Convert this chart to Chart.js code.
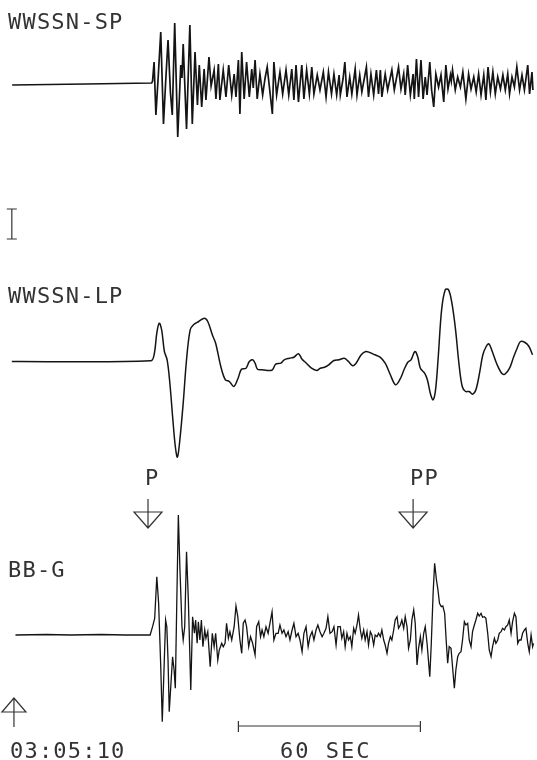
<!DOCTYPE html>
<html>
<head>
<meta charset="utf-8">
<title>Seismogram</title>
<script src="https://cdn.jsdelivr.net/npm/chart.js@4/dist/chart.umd.min.js"></script>
<style>
  body { margin: 0; background: #fff; }
  canvas { display: block; }
</style>
</head>
<body>
<canvas id="seis" width="537" height="760"></canvas>
<script>
// traces : [temps (s), amplitude]  - temps 0 = debut du trace
const spTrace = [
  [0.7,-2],[25,-1],[46.7,0],[47.0,2],[47.5,21],[48.1,-32],[48.9,8],[49.7,51],[50.6,-41],[51.3,0],
  [52.1,43],[52.9,-10],[53.5,-32],[54.3,60],[55.3,-54],[56.3,18],[56.7,5],[57.1,39],[58.2,-46],[59.3,58],
  [60.1,-41],[61.0,31],[61.8,-22],[62.4,18],[63.2,-24],[64.0,14],[64.6,-17],[65.6,26],[66.3,-3],[67.3,13],
  [67.9,-16],[68.7,19],[69.2,-17],[70.3,13],[71.2,-14],[72.1,18],[73.1,-12],[73.9,9],[74.5,-14],[75.3,23],
  [75.8,-31],[76.4,31],[77.2,-16],[78.0,21],[78.9,-14],[79.7,14],[80.2,-5],[80.8,23],[81.5,-16],[82.4,9],
  [83.3,-12],[84.1,5],[84.8,16],[85.7,-9],[86.5,-31],[87.0,21],[87.9,-12],[89.0,11],[89.9,-11],[91.0,13],
  [91.9,-12],[92.9,14],[93.6,-17],[94.3,18],[95.1,-19],[96.2,18],[96.9,-16],[97.8,13],[98.7,-11],[99.5,16],
  [100.2,-11],[101.3,8],[102.2,-7],[103.3,11],[104.2,-14],[105.0,11],[106.0,-11],[106.8,9],[107.7,-12],[108.5,8],
  [108.9,-12],[109.8,4],[110.4,21],[111.1,-14],[112.0,6],[112.7,-11],[113.8,14],[114.4,-12],[115.3,8],[116.0,-9],
  [117.5,16],[118.2,-14],[119.0,9],[119.9,-12],[120.8,13],[121.5,-11],[122.1,13],[122.6,-14],[123.7,9],[124.5,-7],
  [125.9,13],[126.7,-7],[128.1,16],[128.9,-6],[129.8,9],[130.3,-12],[131.1,18],[132.0,-12],[132.9,9],[133.3,-16],
  [134.0,24],[134.7,-14],[135.5,23],[136.2,-16],[136.9,6],[137.5,-12],[138.4,21],[139.0,-7],[139.7,-24],[140.4,9],
  [141.3,-4],[142.1,8],[143.0,-19],[143.7,18],[144.4,-6],[145.2,8],[145.5,2],[145.9,13],[146.8,-7],[147.6,6],
  [148.5,-4],[149.3,11],[150.3,-16],[151.2,9],[152.0,-6],[152.9,6],[153.7,-9],[154.5,9],[155.3,-12],[156.2,8],
  [156.9,-17],[157.6,16],[158.4,-9],[159.2,11],[160.0,-11],[160.8,6],[161.7,-6],[162.5,8],[163.3,-7],[164.1,9],
  [164.7,-11],[165.5,6],[166.3,-4],[167.1,16],[168.0,-7],[168.8,8],[169.6,-7],[170.7,18],[171.3,-11],[172.1,11],
  [172.4,-7]
];

const lpTrace = [
  [0.6,0],[46.4,0.7],[47.5,6.7],[48.4,28.3],[49.2,38.3],[50.0,31.7],[50.9,10],[51.8,1.7],[52.6,-18.3],[53.7,-58.3],
  [54.5,-85],[55.2,-95.7],[56.0,-78.3],[57.1,-41.7],[58.2,1.7],[59.4,31.7],[60.5,36.7],[62.2,40],[64.1,43.3],[65.2,40],
  [66.7,26.7],[67.8,18.3],[69.5,-5],[71.0,-18.3],[72.3,-20],[73.8,-25],[75.2,-16.7],[76.3,-7.7],[77.8,-6.7],[78.9,0],
  [80.0,1.7],[80.8,-1.7],[81.6,-7.7],[83.1,-8.3],[84.8,-9],[86.5,-8.3],[87.6,-2.7],[89.3,-1.7],[90.4,1.7],[92.1,3.3],
  [93.6,4.3],[95.1,7.7],[96.3,2.3],[97.7,-1.7],[99.4,-6.7],[101.1,-9],[102.3,-6.7],[103.7,-5.7],[105.1,-3.3],[106.8,1],
  [108.5,1.7],[110.2,3.3],[111.6,0],[113.0,-4.3],[114.1,-1.7],[115.8,6.7],[117.3,10],[118.6,9],[120.3,6.7],[122.0,4.3],
  [123.7,-1.7],[125.4,-13.3],[127.1,-23.3],[128.6,-17.7],[129.9,-8.3],[131.1,-1],[132.2,1.7],[133.5,10],[134.4,5],[135.3,-6.7],
  [136.7,-11.7],[137.6,-18.3],[138.7,-33.3],[139.5,-38.3],[140.3,-28.3],[141.2,5],[142.3,51.7],[143.5,71.7],[144.6,71.7],[145.7,58.3],
  [146.9,31.7],[148.0,-1.7],[149.1,-25],[150.2,-30],[151.4,-30],[152.5,-32.7],[153.6,-28.3],[154.8,-11.7],[155.9,6.7],[157.0,15],
  [157.9,17.7],[159.0,10],[160.4,-1.7],[162.1,-11.7],[163.2,-12.7],[164.7,-6.7],[166.1,5],[167.2,13.3],[168.3,20],[169.8,19],
  [171.1,15],[172.3,6.7]
];

const bbTrace = [
  [1.8,0],[12,0.5],[20,0],[30,0.5],[38,0],[46.2,0],[47.0,8.3],[47.7,16.7],[48.4,58.3],[49.0,31.7],
  [49.7,-31.7],[50.2,-86.7],[50.8,-31.7],[51.3,15],[51.7,8.3],[52.1,-25],[52.5,-76.7],[53.1,-46.7],[53.6,-21.7],[54.1,-35],
  [54.5,-53.3],[55.0,35],[55.5,120],[56.0,68.3],[56.7,8.3],[57.1,-5],[57.6,8.3],[58.2,83.3],[58.8,35],[59.6,-55],
  [60.2,18.3],[60.8,1.7],[61.2,15],[61.7,-8.3],[62.1,13.3],[62.6,-5],[63.1,15],[63.6,-11.7],[64.2,5],[64.6,-3.3],
  [65.2,3.3],[66.0,-31.7],[66.7,1.7],[67.3,-11.7],[67.8,1.7],[68.5,-25],[69.0,-15],[69.8,-8.3],[70.3,-11.7],[70.9,-8.3],
  [71.4,11.7],[72.0,-3.3],[72.5,3.3],[73.1,-5],[73.9,8.3],[74.5,29],[75.1,18.3],[75.8,-5],[76.4,-18.3],[76.9,11.7],
  [77.5,15],[78.0,8.3],[78.7,-11.7],[79.3,-1.7],[80.0,-8.3],[80.8,-20],[81.3,8.3],[82.0,13.3],[82.6,-1.7],[83.1,5],
  [83.7,-1.7],[84.4,8.3],[85.1,1.7],[85.7,11.7],[86.4,23.3],[87.0,-5],[87.7,1.7],[88.4,1.7],[89.0,10],[89.7,1.7],
  [90.3,5],[91.0,-1.7],[91.7,3.3],[92.3,-5],[93.0,5],[93.6,11.7],[94.3,-1.7],[95.0,1.7],[95.6,-5],[96.3,-16.7],
  [96.9,1.7],[97.6,8.3],[98.3,-11.7],[98.9,-1.7],[99.6,3.3],[100.2,-5],[100.9,5],[101.5,10],[102.2,3.3],[102.9,-1.7],
  [103.5,1.7],[104.2,6.7],[104.8,18.3],[105.5,1.7],[106.2,3.3],[106.8,8.3],[107.5,-10],[108.1,8.3],[108.9,8.3],[109.4,-3.3],
  [110.0,3.3],[110.5,-11.7],[111.1,1.7],[111.6,-5],[112.2,-1.7],[112.7,-11.7],[113.3,6.7],[113.8,1.7],[114.4,10],[114.9,20],
  [115.5,5],[116.0,-3.3],[116.6,5],[117.1,-5],[117.7,3.3],[118.2,-10],[118.8,3.3],[119.3,0],[119.9,-10],[120.4,0],
  [121.0,-1.7],[121.5,1.7],[122.1,-1.7],[122.6,5],[123.2,-5],[123.7,-10],[124.3,-18.3],[124.8,-8.3],[125.4,-1.7],[125.9,-5],
  [126.5,5],[127.0,15],[127.6,18.3],[128.1,6.7],[128.7,10],[129.2,15],[129.8,6.7],[130.3,18.3],[130.9,8.3],[131.4,-13.3],
  [132.0,-5],[132.5,15],[133.1,25],[133.6,11.7],[134.2,-30],[134.7,-13.3],[135.3,-1.7],[135.8,-15],[136.4,1.7],[136.9,8.3],
  [137.5,-8.3],[138.4,-41.7],[138.9,-8.3],[139.5,41.7],[140.0,71.7],[140.6,55],[141.1,45],[141.6,31.7],[142.2,28.3],[142.7,29],
  [143.3,21.7],[143.8,-5],[144.3,-28.3],[144.8,-11.7],[145.4,-13.3],[145.9,-31.7],[146.5,-53.3],[147.0,-35],[147.6,-21.7],[148.1,-18.3],
  [148.7,-16.7],[149.2,-5],[149.8,13.3],[150.3,10],[150.9,11.7],[151.4,-5],[152.0,-11.7],[152.5,3.3],[153.1,10],[153.6,15],
  [154.2,21.7],[154.7,19],[155.3,21.7],[155.8,17.7],[156.4,18.3],[156.9,16.7],[157.5,1.7],[158.0,-15],[158.6,-21.7],[159.1,-11.7],
  [159.7,-3.3],[160.2,-8.3],[160.8,-5],[161.3,1.7],[161.9,3.3],[162.4,6.7],[163.0,5],[163.5,8.3],[164.1,10],[164.6,15],
  [165.2,1.7],[165.7,13.3],[166.3,21.7],[166.8,18.3],[167.4,-8.3],[167.9,-5],[168.5,-5],[169.0,1.7],[169.6,5],[170.1,6.7],
  [170.7,-8.3],[171.2,-16.7],[171.8,0],[172.3,-11.7],[172.6,-8.3]
];

const traceNames = ['WWSSN-SP', 'WWSSN-LP', 'BB-G'];
const arrivals = [ { phase: 'P', t: 45.5 }, { phase: 'PP', t: 132.9 } ];
const timeMark = { label: '03:05:10', t: 1.3 };
const scaleBar = { label: '60 SEC', t0: 75.3, seconds: 60 };
const calAmp = 30; // barre de calibration

// mise en page (lignes de base des traces, en px)
const BASE = [83, 361.5, 635];
const INK = '#141414';
const TXT = '#333';
const FONT = '22px "DejaVu Sans Mono", monospace';

function toPoints(trace, base) {
  return trace.map(([t, a]) => ({ x: t, y: base - a }));
}

// dessine etiquettes, fleches et barres d'echelle
const decorations = {
  id: 'decorations',
  afterDatasetsDraw(chart) {
    const c = chart.ctx;
    const xs = chart.scales.x, ys = chart.scales.y;
    const px = t => xs.getPixelForValue(t);
    const py = v => ys.getPixelForValue(v);

    c.save();
    c.fillStyle = TXT;
    c.strokeStyle = TXT;
    c.lineWidth = 1.2;
    c.font = FONT;
    c.textBaseline = 'alphabetic';
    c.letterSpacing = '1.2px';

    const label = (s, x, y) => c.fillText(s, x, y);
    label(traceNames[0], 8, 29);
    label(traceNames[1], 8, 303);
    label(traceNames[2], 8, 577);

    // barre de calibration
    const cx = px(0.6), cy = py(224);
    c.beginPath();
    c.moveTo(cx, cy - calAmp / 2); c.lineTo(cx, cy + calAmp / 2);
    c.moveTo(cx - 5, cy - calAmp / 2); c.lineTo(cx + 5, cy - calAmp / 2);
    c.moveTo(cx - 5, cy + calAmp / 2); c.lineTo(cx + 5, cy + calAmp / 2);
    c.stroke();

    // arrivees P / PP
    arrivals.forEach(a => {
      const x = px(a.t);
      label(a.phase, x - 3, 485);
      c.beginPath();
      c.moveTo(x, 499); c.lineTo(x, 528);
      c.moveTo(x - 14, 512); c.lineTo(x + 14, 512); c.lineTo(x, 528); c.closePath();
      c.stroke();
    });

    // repere de temps
    const tx = px(timeMark.t);
    c.beginPath();
    c.moveTo(tx, 727); c.lineTo(tx, 698);
    c.moveTo(tx - 12, 712); c.lineTo(tx + 12, 712); c.lineTo(tx, 698); c.closePath();
    c.stroke();
    label(timeMark.label, 10, 758);

    // echelle 60 s
    const x0 = px(scaleBar.t0), x1 = px(scaleBar.t0 + scaleBar.seconds);
    c.beginPath();
    c.moveTo(x0, 726); c.lineTo(x1, 726);
    c.moveTo(x0, 721); c.lineTo(x0, 732);
    c.moveTo(x1, 721); c.lineTo(x1, 732);
    c.stroke();
    c.letterSpacing = '2px';
    label(scaleBar.label, 280, 758);
    c.restore();
  }
};

new Chart(document.getElementById('seis'), {
  type: 'line',
  data: {
    datasets: [
      { data: toPoints(spTrace, BASE[0]), borderColor: INK, borderWidth: 1.7 },
      { data: toPoints(lpTrace, BASE[1]), borderColor: INK, borderWidth: 1.5, tension: 0.35 },
      { data: toPoints(bbTrace, BASE[2]), borderColor: INK, borderWidth: 1.3 }
    ]
  },
  options: {
    responsive: false,
    animation: false,
    layout: { padding: 0 },
    elements: { point: { radius: 0 }, line: { tension: 0, fill: false } },
    plugins: { legend: { display: false }, tooltip: { enabled: false } },
    events: [],
    scales: {
      x: { type: 'linear', min: -3.3, max: 173.75, display: false },
      y: { type: 'linear', min: 0, max: 760, reverse: true, display: false }
    }
  },
  plugins: [decorations]
});
</script>
</body>
</html>
